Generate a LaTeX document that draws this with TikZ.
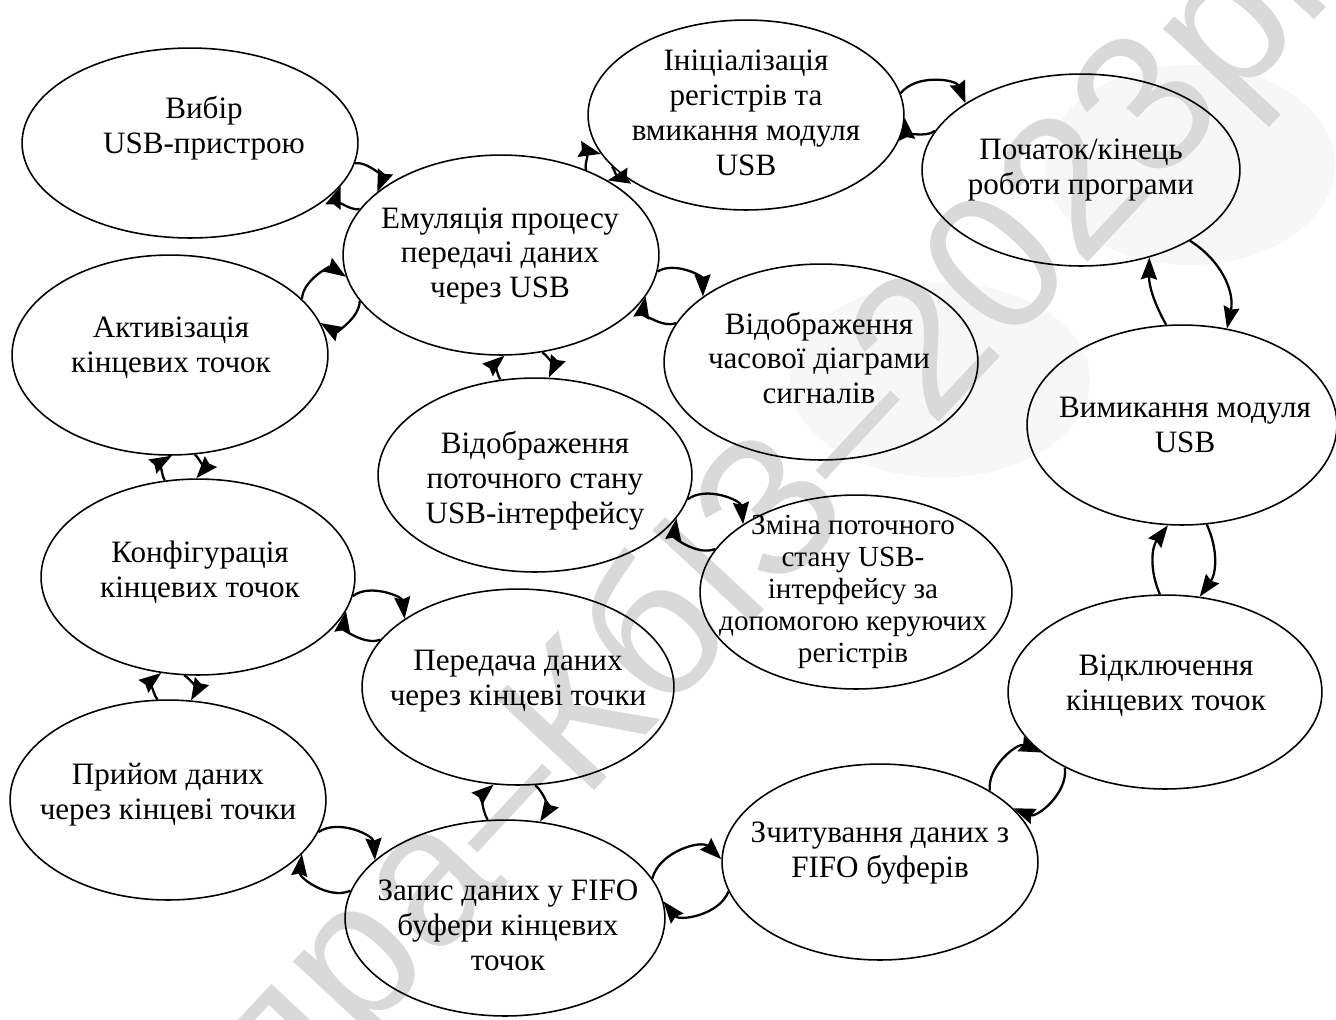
\documentclass[tikz,border=0pt]{standalone}
\usepackage{fontspec}
\setmainfont{Liberation Serif}
\newfontfamily\wmfont{Liberation Sans}
\usetikzlibrary{shapes.geometric,arrows.meta}

\begin{document}
\begin{tikzpicture}[x=0.02cm,y=-0.02cm,
  ell/.style 2 args={ellipse,draw,line width=0.9pt,inner sep=0pt,
    minimum width=#1*0.04cm,minimum height=#2*0.04cm},
  lbl/.style={align=center,inner sep=0pt,font=\fontsize{17.7}{19.9}\selectfont},
  lblsmall/.style={align=center,inner sep=0pt,font=\fontsize{16.6}{18.2}\selectfont},
  flow/.style={-{Stealth[length=4.4mm,width=3.2mm,inset=0.5mm]},line width=1.3pt,bend left=#1},
  flow/.default=60,
  wm/.style={text=black!15,inner sep=0pt,font=\wmfont\fontsize{112}{112}\selectfont}]

\useasboundingbox (0,0) rectangle (1336,1019);

% faint background marks
\begin{scope}
  \clip (0,0) rectangle (1336,1019);
  \fill[black!3] (1190,165) ellipse [x radius=2.9cm,y radius=2cm];
  \fill[black!3] (940,380) ellipse [x radius=3cm,y radius=1.95cm];
  \node[wm,rotate=47] (wmark) at (800,495) {дра–КбІЗ–2023рік};
\end{scope}

% states
\node[ell={168}{95}]  (V) at (190,143) {};
\node[ell={158}{95}]  (I) at (746,115) {};
\node[ell={159}{96}]  (P) at (1081,170) {};
\node[ell={158}{100}] (E) at (501,255) {};
\node[ell={158}{100}] (A) at (170,355) {};
\node[ell={157}{98}]  (T) at (821,362) {};
\node[ell={155}{100}] (M) at (1182,425) {};
\node[ell={157}{97}]  (S) at (535,475) {};
\node[ell={157}{98}]  (K) at (198,577) {};
\node[ell={156}{97}]  (Z) at (856,592) {};
\node[ell={156}{98}]  (D) at (518,687) {};
\node[ell={157}{97}]  (O) at (1165,692) {};
\node[ell={158}{100}] (R) at (168,800) {};
\node[ell={160}{98}]  (F) at (505,918) {};
\node[ell={158}{98}]  (C) at (880,862) {};

% labels
\node[lbl] (Vt) at (204,128) {Вибір\\USB-пристрою};
\node[lbl] (It) at (746,113) {Ініціалізація\\регістрів та\\вмикання модуля\\USB};
\node[lbl] (Pt) at (1081,170) {Початок/кінець\\роботи програми};
\node[lbl] (Et) at (500,256) {Емуляція процесу\\передачі даних\\через USB};
\node[lbl] (At) at (171,348) {Активізація\\кінцевих точок};
\node[lbl] (Tt) at (819,358) {Відображення\\часової діаграми\\сигналів};
\node[lbl] (Mt) at (1185,425) {Вимикання модуля\\USB};
\node[lbl] (St) at (535,481) {Відображення\\поточного стану\\USB-інтерфейсу};
\node[lbl] (Kt) at (200,572) {Конфігурація\\кінцевих точок};
\node[lblsmall] (Zt) at (853,592) {Зміна поточного\\стану USB-\\інтерфейсу за\\допомогою керуючих\\регістрів};
\node[lbl] (Dt) at (518,681) {Передача даних\\через кінцеві точки};
\node[lbl] (Ot) at (1166,686) {Відключення\\кінцевих точок};
\node[lbl] (Rt) at (168,795) {Прийом даних\\через кінцеві точки};
\node[lbl] (Ft) at (508,925) {Запис даних у FIFO\\буфери кінцевих\\точок};
\node[lbl] (Ct) at (880,853) {Зчитування даних з\\FIFO буферів};

% transitions
\draw[flow] (V.-7) to (E.153);
\draw[flow] (E.162) to (V.-16);
\draw[flow] (E.45) to (I.195);
\draw[flow] (I.201) to (E.35);
\draw[flow] (I.8) to (P.150);
\draw[flow] (P.165) to (I.-1);
\draw[flow=35] (P.-33) to (M.65);
\draw[flow=15] (M.99) to (P.-52);
\draw[flow] (A.23) to (E.188);
\draw[flow] (E.198) to (A.12);
\draw[flow] (E.-6) to (T.151);
\draw[flow] (T.165) to (E.-16);
\draw[flow=40] (S.110) to (E.-88);
\draw[flow=40] (E.-67) to (S.82);
\draw[flow] (S.-9) to (Z.149);
\draw[flow] (Z.163) to (S.-17);
\draw[flow=45] (K.109) to (A.-89);
\draw[flow=45] (A.-76) to (K.91);
\draw[flow] (K.-7) to (D.149);
\draw[flow] (D.161) to (K.-13);
\draw[flow=45] (R.96) to (K.-111);
\draw[flow=45] (K.-98) to (R.77);
\draw[flow=30] (O.93) to (M.-98);
\draw[flow=30] (M.-76) to (O.70);
\draw[flow] (R.-12) to (F.156);
\draw[flow] (F.170) to (R.-22);
\draw[flow=40] (F.100) to (D.-104);
\draw[flow=40] (D.-80) to (F.70);
\draw[flow] (F.15) to (C.179);
\draw[flow] (C.191) to (F.6);
\draw[flow] (C.33) to (O.206);
\draw[flow] (O.217) to (C.22);
\end{tikzpicture}
\end{document}
